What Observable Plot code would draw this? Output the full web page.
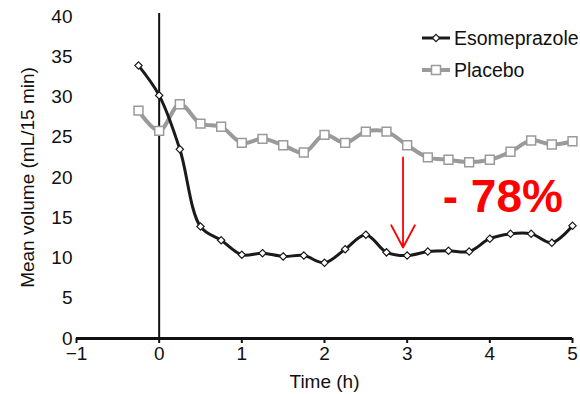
<!DOCTYPE html>
<html><head><meta charset="utf-8">
<script src="https://cdn.jsdelivr.net/npm/d3@7"></script>
<script src="https://cdn.jsdelivr.net/npm/@observablehq/plot@0.6"></script>
<style>
body{margin:0;background:#fff;font-family:"Liberation Sans",Arial,sans-serif;}
#wrap{position:relative;width:580px;height:394px;}
#legend{position:absolute;left:422px;top:22px;font-size:19.5px;color:#111;}
.item{display:flex;align-items:center;height:32px;white-space:nowrap;}
.item svg{margin-right:4px;}
</style></head><body><div id="wrap"><div id="legend"></div></div>
<script>
const times = [-0.25,0,0.25,0.5,0.75,1,1.25,1.5,1.75,2,2.25,2.5,2.75,3,3.25,3.5,3.75,4,4.25,4.5,4.75,5];
const esomeprazole = [33.9,30.2,23.5,13.9,12.2,10.4,10.6,10.2,10.3,9.4,11.1,12.9,10.7,10.3,10.8,10.9,10.8,12.4,13.0,13.0,11.9,14.0];
const placebo = [28.3,25.8,29.1,26.7,26.3,24.3,24.8,24.0,23.1,25.3,24.3,25.7,25.7,24.0,22.5,22.2,21.9,22.2,23.2,24.6,24.1,24.5];
const xTicks = [-1,0,1,2,3,4,5];
const yTicks = [0,5,10,15,20,25,30,35,40];
const seriesNames = ["Esomeprazole","Placebo"];
const arrowX = [2.95], arrowFrom = [22.5], arrowTo = [11.3];
const annotText = ["- 78%"], annotX = [3.43], annotY = [17.6];

const esoData = times.map((t,i)=>({t, v: esomeprazole[i]}));
const plaData = times.map((t,i)=>({t, v: placebo[i]}));
const arrowData = arrowX.map((x,i)=>({x, y1: arrowFrom[i], y2: arrowTo[i]}));
const annot = annotText.map((s,i)=>({s, x: annotX[i], y: annotY[i]}));

const ESO = "#1a1a1a", PLA = "#9a9a9a";
const fmt = d => d < 0 ? "\u2212" + Math.abs(d) : String(d);

const chart = Plot.plot({
  width: 580, height: 394,
  marginLeft: 76, marginRight: 8, marginTop: 16, marginBottom: 56,
  x: {domain: [-1, 5]},
  y: {domain: [0, 40]},
  style: {fontFamily: "'Liberation Sans', Arial, sans-serif", fontSize: "19px", color: "#111", background: "white", overflow: "visible"},
  marks: [
    Plot.axisY({ticks: yTicks, tickSize: 0, tickPadding: 4, label: "Mean volume (mL/15 min)", labelAnchor: "center", labelArrow: "none", labelOffset: 56}),
    Plot.axisX({ticks: xTicks, tickFormat: fmt, tickSize: 5, tickPadding: 3, strokeWidth: 2, label: "Time (h)", labelAnchor: "center", labelArrow: "none", labelOffset: 49}),
    Plot.ruleX([0], {strokeWidth: 2, stroke: "#111", insetTop: -3}),
    Plot.ruleY([0], {strokeWidth: 3, stroke: "#111"}),
    Plot.line(plaData, {x: "t", y: "v", stroke: PLA, strokeWidth: 4, curve: "catmull-rom"}),
    Plot.dot(plaData, {x: "t", y: "v", symbol: "square", r: 5, fill: "white", stroke: PLA, strokeWidth: 1.5}),
    Plot.line(esoData, {x: "t", y: "v", stroke: ESO, strokeWidth: 3, curve: "catmull-rom"}),
    Plot.dot(esoData, {x: "t", y: "v", symbol: "diamond2", r: 3.3, fill: "white", stroke: ESO, strokeWidth: 1.2}),
    Plot.arrow(arrowData, {x1: "x", x2: "x", y1: "y1", y2: "y2", stroke: "red", strokeWidth: 1.8, headLength: 21, headAngle: 56}),
    Plot.text(annot, {x: "x", y: "y", text: "s", textAnchor: "start", lineAnchor: "middle", fill: "red", fontSize: 46, fontWeight: "bold"})
  ]
});
document.getElementById("wrap").prepend(chart);

// legend
const legend = d3.select("#legend");
const styles = [{c: ESO, w: 3, sym: "diamond"}, {c: PLA, w: 4, sym: "square"}];
seriesNames.forEach((name, i) => {
  const s = styles[i];
  const item = legend.append("div").attr("class", "item");
  const svg = item.append("svg").attr("width", 28).attr("height", 12);
  svg.append("line").attr("x1", 0).attr("x2", 28).attr("y1", 6).attr("y2", 6).attr("stroke", s.c).attr("stroke-width", s.w);
  if (s.sym === "diamond") {
    svg.append("path").attr("d", "M14,2.3L17.7,6L14,9.7L10.3,6Z").attr("fill", "white").attr("stroke", s.c).attr("stroke-width", 1.2);
  } else {
    svg.append("rect").attr("x", 9.5).attr("y", 1.5).attr("width", 9).attr("height", 9).attr("fill", "white").attr("stroke", s.c).attr("stroke-width", 1.5);
  }
  item.append("span").text(name);
});
</script>
</body></html>
